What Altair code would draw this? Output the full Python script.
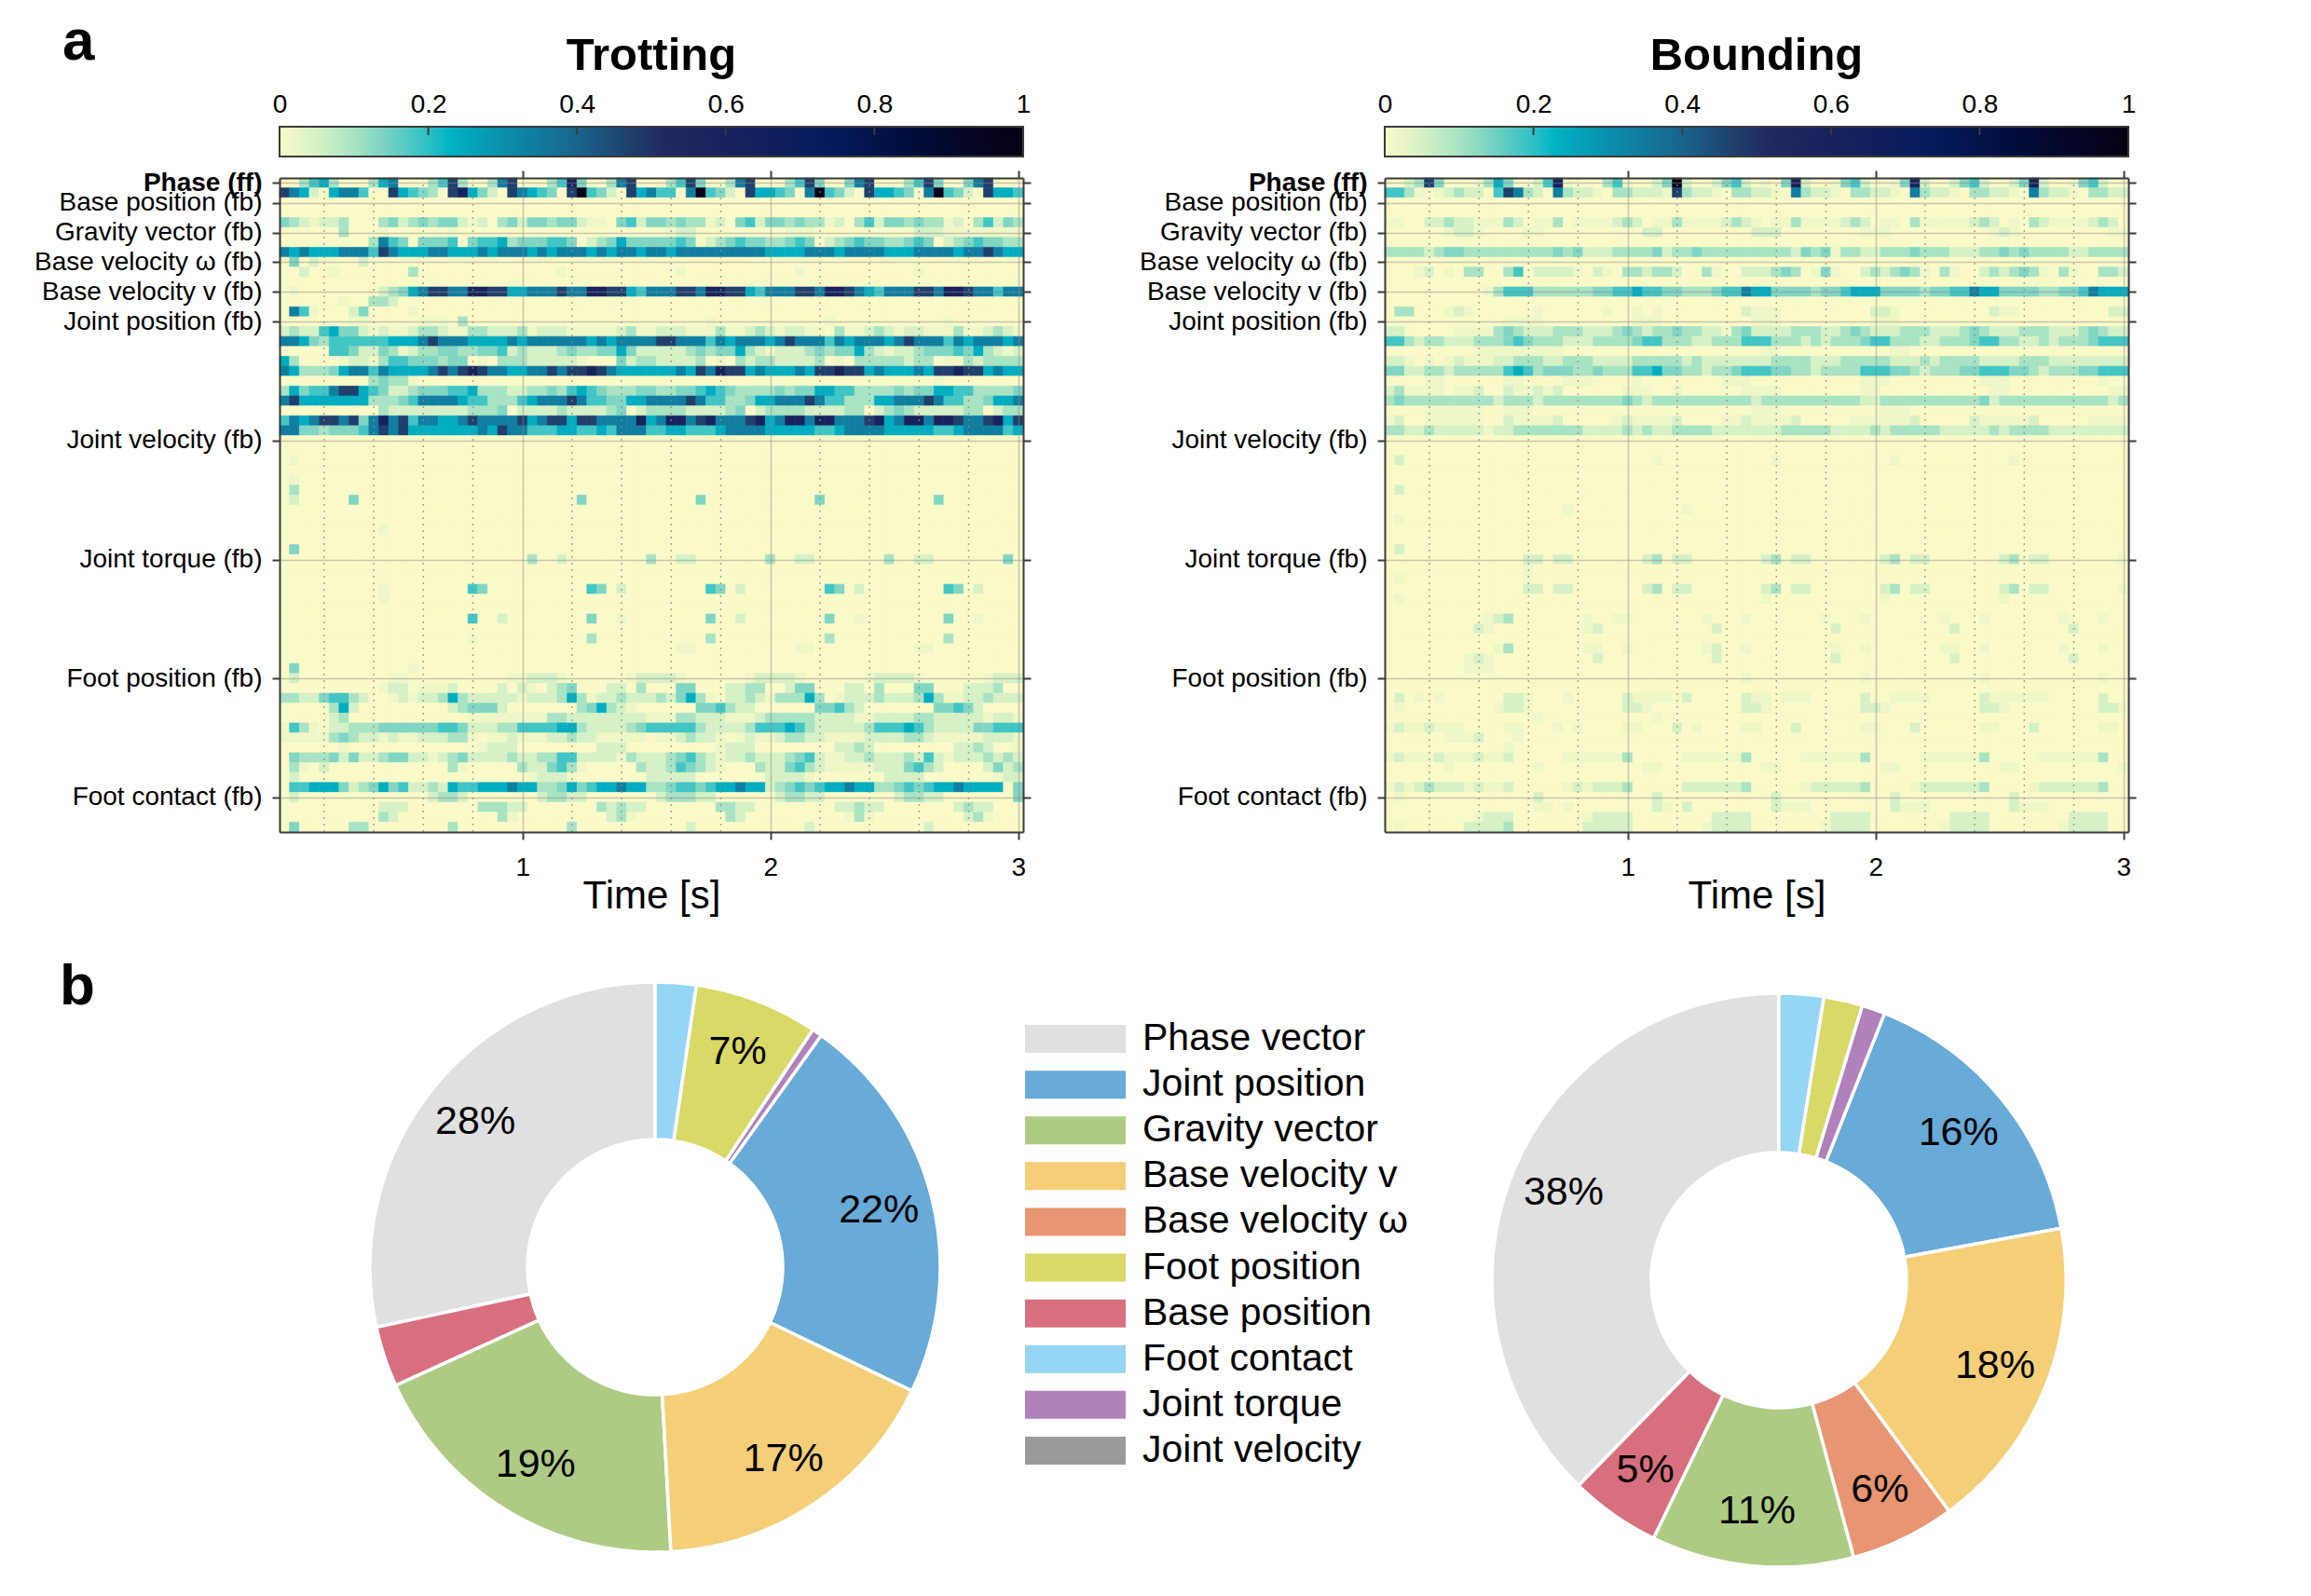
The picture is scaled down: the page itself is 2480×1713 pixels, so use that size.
import altair as alt
import pandas as pd

alt.data_transformers.disable_max_rows()
FONT = "Liberation Sans"

# ---------------- heatmap grid definition ----------------
GROUP_NAMES = ["Phase (ff)", "Base position (fb)", "Gravity vector (fb)", "Base velocity ω (fb)",
               "Base velocity v (fb)", "Joint position (fb)", "Joint velocity (fb)", "Joint torque (fb)",
               "Foot position (fb)", "Foot contact (fb)"]
GROUP_SIZES = [2, 3, 3, 3, 3, 12, 12, 12, 12, 4]
N_STEPS = 75
T_START = 0.02
DT = 0.04
X_TICKS = [1, 2, 3]
MINOR_TIMES = [0.2, 0.4, 0.6, 0.8, 1.2, 1.4, 1.6, 1.8, 2.2, 2.4, 2.6, 2.8]

# colour codes -> attention value
CODE_VALUE = {"0": 0.0, "1": 0.015, "2": 0.05, "3": 0.1, "4": 0.135, "5": 0.185,
              "6": 0.24, "7": 0.34, "8": 0.47, "9": 0.6, "b": 0.97}

CMAP_STOPS = [0.0, 0.05, 0.10, 0.15, 0.20, 0.23, 0.30, 0.40, 0.47, 0.52, 0.60, 0.70, 0.75, 0.85, 1.0]
CMAP_COLORS = ["#fafac8", "#d6f1c6", "#a8e3c3", "#6fd0c3", "#2ec0c6", "#00b2c4", "#0a8fad", "#19648c",
               "#1f3f6c", "#212860", "#17225c", "#0b1d5c", "#031a58", "#020c3c", "#080012"]
CB_TICKS = [0, 0.2, 0.4, 0.6, 0.8, 1]

# ---------------- Trotting ----------------
TROT_PHASE = [
    "00356 30003 67000 35830 03780 00359 40037 80003 58400 37800 03584 00478 00035 84004 78000",
    "87620 67750 08654 30896 42087 65408 b5420 86755 07b54 20866 5407b 54208 66540 7b542 08665",
]
TROT_BASE_POSITION = [
    {}, {},
    "43212 23000 34234 34421 20342 44344 21104 52443 43312 04524 43433 12035 24434 33120 35243",
]
TROT_GRAVITY = [
    "00000 03000 10000 00100 00000 00000 00000 00001 22000 00000 01110 00000 00002 22111 11111",
    "00000 00003 75404 44504 55634 44554 02346 44444 54023 45443 34540 23454 43345 40234 54433",
    "76766 67775 87666 77666 76777 67677 76767 76776 77777 77776 66677 76777 76667 77767 78766",
]
TROT_BASE_OMEGA = [{1: 4, 3: 2, 8: 2}, {2: 2, 5: 1, 13: 3, 28: 1, 40: 1, 52: 1, 64: 1}, {}]
TROT_BASE_V = [
    "01000 00000 23467 88779 98866 77787 79988 65777 88799 88657 77887 99876 57778 87998 77577",
    {6: 1, 9: 3, 10: 3, 11: 2},
    {1: 7, 2: 5, 3: 1, 7: 2, 8: 4, 13: 1},
]
TROT_JOINT_POSITION = [
    {7: 1, 8: 1, 14: 1, 15: 1, 16: 1, 18: 3, 43: 1, 55: 1, 67: 1},
    "23225 64421 21123 32113 32223 12221 11112 31122 21113 11232 12211 03112 32122 11131 12321",
    "77643 55555 56667 87776 66676 77777 76767 77788 77757 67776 78777 57677 76787 77576 77767",
    "00000 55422 43123 34433 44523 22234 33446 42222 23434 46321 22234 34463 21223 44454 63212",
    "63000 01221 35544 43440 10333 22222 10004 23322 22301 03233 22223 01033 33323 30113 23333",
    "76333 46775 76666 78789 87766 77878 89876 66666 76879 88676 66768 89886 76667 68898 86766",
    {9: 3, 10: 4, 11: 3, 12: 3, 13: 1, 66: 1},
    "36455 78865 42234 44556 33322 33435 65433 34433 44565 43333 43446 65533 33434 46655 33334",
    "78666 66663 33457 77765 53335 67778 75544 66777 78755 33466 77787 55333 66777 87553 34667",
    "00000 00000 32222 22223 33402 22232 22234 02333 32222 34023 33322 22330 23432 22223 30233",
    "57678 87847 97857 76678 77778 67886 88777 79679 97897 77896 79979 97778 96799 79987 78968",
    "77443 44457 87866 66666 76877 55566 55657 77556 65556 77776 66665 56777 76666 65567 77756",
]
TROT_JOINT_VELOCITY = [{}, {}, {1: 1}, {}, {1: 1}, {1: 3}, {1: 2, 7: 4, 30: 4, 42: 4, 54: 4, 66: 4},
                       {}, {}, {10: 1}, {}, {1: 4}]
TROT_JOINT_TORQUE = [
    {25: 3, 28: 2, 37: 3, 40: 2, 41: 2, 49: 3, 52: 2, 53: 2, 61: 3, 64: 2, 65: 2, 73: 4},
    {}, {},
    {10: 1, 19: 5, 20: 4, 31: 5, 32: 4, 34: 2, 43: 5, 44: 4, 46: 2, 55: 5, 56: 4, 58: 2, 67: 5, 68: 4, 70: 2},
    {10: 1}, {},
    {19: 5, 22: 2, 31: 4, 34: 1, 43: 4, 46: 2, 55: 4, 58: 1, 67: 4, 70: 1},
    {},
    {19: 1, 31: 3, 43: 3, 55: 3, 67: 3},
    {40: 1, 41: 1, 52: 1, 53: 1, 64: 1, 65: 1},
    {},
    {1: 4, 13: 1},
]
TROT_FOOT_POSITION = [
    "02000 00000 01100 00000 00011 22210 00000 12222 10000 00122 22100 00001 22221 00000 01222",
    "00000 00000 12201 11200 00202 10234 00022 03000 44000 22330 02440 00220 30004 40002 22300",
    "33224 55320 01212 23632 22221 22236 31223 22232 46310 22321 33363 01222 32223 63112 23222",
    "00000 36200 00000 00234 44200 00000 34632 10000 00445 32200 00004 45320 00000 04454 20000",
    "00000 23000 00000 00001 11111 11332 22222 22111 33222 11123 33332 22211 22223 32222 21221",
    "15310 22333 44444 45542 22335 55566 32222 34555 55322 22355 56532 22223 55565 32222 44555",
    "11111 34322 12112 22331 01121 11223 22111 11011 23221 01211 23322 11112 22233 21111 12221",
    "00000 01000 00000 00000 12220 00000 00222 00000 00001 22200 00000 02232 00000 00022 32001",
    "04333 42422 34422 12342 22232 23355 22221 32223 45321 22322 23452 11223 22232 52122 23232",
    "03102 00000 00000 00310 00003 22453 10000 03223 54321 00032 24532 11111 22245 32000 02423",
    "02000 00000 00000 00000 00000 12221 00000 00222 22000 00002 22210 00000 02222 00000 00122",
    "05566 64234 64522 32655 66676 63346 45667 66334 55456 67662 34545 66766 33454 56676 66604",
]
TROT_FOOT_CONTACT = [
    "02000 00000 00000 23320 00000 02332 20000 00023 33220 00000 23322 00000 00233 22000 00004",
    "00000 00000 22200 00000 33322 00000 00323 22000 00003 32200 00000 02232 20000 00023 22000",
    {10: 3, 11: 2, 22: 3, 23: 1, 33: 2, 34: 3, 35: 1, 45: 3, 46: 2, 57: 1, 58: 3, 59: 1, 69: 2, 70: 3, 71: 1},
    {1: 4, 7: 3, 8: 3, 17: 3, 29: 3, 41: 2, 53: 2, 65: 2},
]

# ---------------- Bounding ----------------
BOUND_PHASE = [
    "00238 40001 36400 25910 00351 0024b 20024 52010 49200 14520 01492 00245 20024 92001 45200",
    "55310 12322 05873 20732 21033 22218 32210 33221 07322 10332 21073 22103 32210 73221 03322",
]
BOUND_BASE_POSITION = [
    {}, {},
    "11002 23221 11320 11301 11123 20113 11112 32101 13111 12320 11031 11112 32010 32111 12320",
]
BOUND_GRAVITY = [
    "00000 01221 00001 10000 00000 02200 00000 00222 00000 00011 10000 00000 01210 00000 00011",
    {},
    "33332 34433 33333 33434 22233 33423 34333 33333 32434 13322 33343 33222 33434 33332 23333",
]
BOUND_BASE_OMEGA = [
    {},
    "00012 01033 00350 22221 02103 32332 00310 02223 43014 10023 23431 03100 23234 31031 00332",
    {},
]
BOUND_BASE_V = [
    "00000 00000 13555 33333 34455 65544 33345 57664 44434 45666 44443 44557 66444 43344 57666",
    {},
    "03300 01210 00000 10000 00100 10100 00000 02111 00000 00002 21000 00000 02110 00000 00022",
]
BOUND_JOINT_POSITION = [
    "00000 00000 00111 10000 00000 11100 00000 00111 00000 00001 11000 00000 00000 00000 00000",
    "22000 00111 13432 22333 22234 32334 33221 34222 23332 23432 22333 22234 32223 33222 34322",
    "55323 32223 33454 33322 23333 45533 32233 35553 33232 33345 53332 23334 55332 23233 34555",
    "00000 00001 11111 11100 00000 00000 00000 00011 00000 00000 01100 00000 00000 00000 00000",
    "22101 01211 12233 32233 32222 33333 23222 22223 33322 23333 32223 23333 22223 33222 22222",
    "44223 32333 33565 34443 34333 55644 33233 45554 43323 33355 54432 33344 55544 32333 44555",
    "00001 10000 00110 00011 10000 10000 00001 11000 00000 00011 10000 00000 11100 00000 00100",
    "23111 10112 00211 21200 00001 11001 00000 01111 00000 00011 00000 00000 01100 00000 00011",
    "34333 33333 32333 23333 33334 32333 33333 33233 33333 33322 33333 33333 42333 33333 33323",
    "00001 11111 00111 00000 00000 00000 00000 00111 00000 00000 11100 00000 00000 00000 00000",
    "12001 11111 00211 11200 00012 11112 00001 12111 12000 00111 11120 00002 11111 20000 01111",
    "33223 22222 12233 33333 22223 23223 33322 22222 33333 22223 23333 32222 23233 33222 22222",
]
BOUND_JOINT_VELOCITY = [{}, {}, {1: 2, 27: 1, 39: 1, 51: 1, 63: 1}, {}, {}, {1: 2}, {},
                        {18: 1, 30: 1}, {1: 1}, {}, {}, {1: 2}]
BOUND_JOINT_TORQUE = [
    {14: 2, 15: 2, 17: 2, 18: 2, 26: 2, 27: 3, 29: 2, 30: 2, 38: 2, 39: 3, 41: 2, 42: 2,
     50: 2, 51: 3, 53: 2, 54: 2, 62: 2, 63: 3, 65: 2, 66: 2, 74: 1},
    {14: 1},
    {1: 1, 14: 1},
    {14: 2, 15: 2, 17: 2, 18: 2, 26: 2, 27: 3, 29: 2, 30: 2, 38: 2, 39: 3, 41: 2, 42: 2,
     50: 2, 51: 3, 53: 2, 54: 2, 62: 2, 63: 3, 65: 2, 66: 2, 74: 1},
    {1: 1, 38: 1, 50: 1, 62: 1},
    {},
    {10: 1, 11: 2, 12: 3, 20: 1, 23: 1, 24: 1, 32: 1, 36: 1, 44: 1, 48: 1, 56: 1, 60: 1, 68: 1, 72: 1},
    {9: 2, 10: 1, 20: 1, 21: 2, 33: 2, 45: 2, 57: 2, 69: 2},
    {},
    {11: 1, 12: 3, 20: 1, 21: 1, 24: 1, 32: 1, 33: 2, 36: 1, 45: 1, 48: 1, 56: 1, 57: 1, 60: 1, 68: 1, 72: 1},
    {8: 1, 9: 2, 10: 1, 21: 2, 33: 2, 45: 2, 57: 2, 69: 2},
    {8: 1, 9: 1, 10: 1},
]
BOUND_FOOT_POSITION = [
    {36: 1, 48: 1, 60: 1, 72: 1},
    {},
    {1: 2, 3: 1, 5: 1, 12: 2, 13: 2, 14: 1, 18: 1, 24: 2, 25: 1, 26: 1, 27: 1, 28: 1, 30: 2, 36: 2,
     37: 1, 38: 1, 40: 1, 41: 1, 42: 1, 48: 2, 51: 1, 52: 1, 53: 1, 54: 1, 60: 2, 61: 1, 62: 1,
     63: 1, 64: 1, 65: 1, 66: 1, 72: 2},
    {1: 1, 11: 1, 12: 2, 13: 2, 14: 1, 24: 2, 25: 2, 26: 1, 36: 2, 37: 2, 38: 1, 48: 2, 49: 2,
     50: 1, 60: 2, 61: 2, 62: 1, 72: 2, 73: 2, 74: 1},
    {15: 1, 27: 1},
    {0: 1, 1: 2, 2: 1, 3: 1, 4: 2, 5: 1, 6: 1, 7: 1, 12: 1, 13: 1, 17: 1, 19: 1, 24: 1, 25: 1,
     29: 2, 31: 1, 36: 1, 37: 1, 41: 2, 48: 1, 49: 1, 53: 2, 60: 1, 61: 1, 65: 2, 72: 1, 73: 1},
    {6: 1, 7: 1, 8: 1, 9: 2, 13: 1},
    {12: 1},
    "12111 21112 11200 00011 11113 00000 11111 13000 00111 11130 00001 11111 30000 01111 11300",
    {6: 1, 15: 1, 26: 1, 27: 1, 38: 1, 39: 1, 50: 1, 51: 1, 62: 1, 63: 1, 74: 1},
    {},
    "12123 22212 11200 00012 12223 00000 22222 23000 00122 22230 00012 22222 30000 12222 22300",
]
BOUND_FOOT_CONTACT = [
    {1: 1, 15: 2, 27: 2, 39: 2, 51: 2, 63: 2},
    {15: 1, 16: 1, 18: 1, 27: 2, 28: 1, 30: 2, 39: 2, 40: 1, 41: 1, 42: 1, 51: 2, 52: 1, 53: 1,
     54: 1, 63: 2, 64: 1, 65: 1, 66: 1},
    {9: 1, 10: 2, 11: 2, 12: 2, 20: 1, 21: 2, 22: 2, 23: 2, 24: 2, 33: 2, 34: 2, 35: 2, 36: 2,
     45: 2, 46: 2, 47: 2, 48: 2, 57: 2, 58: 2, 59: 2, 60: 2, 69: 2, 70: 2, 71: 2, 72: 2},
    {1: 1, 8: 2, 9: 2, 10: 2, 11: 2, 12: 3, 20: 2, 21: 2, 22: 2, 23: 2, 24: 2, 32: 1, 33: 2, 34: 2,
     35: 2, 36: 2, 44: 1, 45: 2, 46: 2, 47: 2, 48: 2, 56: 1, 57: 2, 58: 2, 59: 2, 60: 2, 68: 1,
     69: 2, 70: 2, 71: 2, 72: 2},
]

# ---------------- pie data ----------------
PIE_NAMES = ["Phase vector", "Joint position", "Gravity vector", "Base velocity v", "Base velocity ω",
             "Foot position", "Base position", "Foot contact", "Joint torque", "Joint velocity"]
PIE_COLORS = ["#e0e0e0", "#68aad8", "#aecb84", "#f4cf78", "#e89572",
              "#d8d966", "#d86f7e", "#94d6f4", "#b081ba", "#9a9a9a"]
TROT_SHARE = [28.39, 22.25, 19.08, 16.97, 0.0, 7.03, 3.42, 2.31, 0.56, 0.0]
BOUND_SHARE = [37.7, 16.1, 11.4, 17.8, 5.9, 2.2, 5.1, 2.5, 1.3, 0.0]
CLOCKWISE_ORDER = ["Foot contact", "Foot position", "Joint torque", "Joint velocity", "Joint position",
                   "Base velocity v", "Base velocity ω", "Gravity vector", "Base position", "Phase vector"]

# ---------------- helpers ----------------
N_ROWS = sum(GROUP_SIZES)
TICK_ROWS = []
_s = 0
for g in GROUP_SIZES:
    TICK_ROWS.append(_s + 0.5)
    _s += g


def decode(row):
    vals = [0.0] * N_STEPS
    if isinstance(row, dict):
        for c, code in row.items():
            vals[c] = CODE_VALUE[str(code)]
        return vals
    s = row.replace(" ", "")
    for c, ch in enumerate(s[:N_STEPS]):
        vals[c] = CODE_VALUE[ch]
    return vals


def heat_df(groups):
    rows = [r for g in groups for r in g]
    recs = []
    for i, row in enumerate(rows):
        for c, v in enumerate(decode(row)):
            recs.append({"t0": T_START + DT * c, "t1": T_START + DT * (c + 1),
                         "r0": i, "r1": i + 1, "v": v})
    return pd.DataFrame(recs)


# layout (pixels)
W, H = 798, 702          # heatmap plot area
GAP_X = 388              # gap between the two heatmaps
CB_ROW = 55              # colour-bar row (bar is 32 px, then 23 px gap)
CB_H = 32
GAP_Y = 161              # gap between heatmaps and pies
PIE_ROW = 640
AX = "#3a3a3a"

x_scale = alt.Scale(domain=[T_START, T_START + DT * N_STEPS], nice=False, zero=False)
y_scale = alt.Scale(domain=[0, N_ROWS], reverse=True, nice=False, zero=False)
color_scale = alt.Scale(domain=CMAP_STOPS, range=CMAP_COLORS, interpolate="rgb", clamp=True)

label_expr = ("[" + ",".join("'" + n + "'" for n in GROUP_NAMES) + "][indexof(["
              + ",".join(str(t) for t in TICK_ROWS) + "], datum.value)]")

axis_common = dict(domainColor=AX, domainWidth=2, tickColor=AX, tickWidth=2, tickSize=8,
                   labelFont=FONT, labelFontSize=28, labelColor="black", labelFlush=False,
                   labelLimit=600)


def heat_body(groups):
    df = heat_df(groups)
    heat = alt.Chart(df).mark_rect(strokeWidth=0.6).encode(
        x=alt.X("t0:Q", scale=x_scale,
                axis=alt.Axis(values=X_TICKS, format="d", title="Time [s]", titleFont=FONT,
                              titleFontSize=42, titleFontWeight="normal", titleColor="black",
                              titlePadding=-4, labelPadding=16, grid=True, gridColor="#8a8a8a",
                              gridOpacity=0.45, gridWidth=1.5, zindex=1, **axis_common)),
        x2="t1:Q",
        y=alt.Y("r0:Q", scale=y_scale,
                axis=alt.Axis(values=TICK_ROWS, labelExpr=label_expr, labelOverlap=False,
                              labelPadding=11, title=None, grid=True, gridColor="#8a8a8a",
                              gridOpacity=0.45, gridWidth=1.5, zindex=1,
                              labelFontWeight={"condition": {"test": "datum.value == 0.5", "value": "bold"},
                                               "value": "normal"},
                              **axis_common)),
        y2="r1:Q",
        color=alt.Color("v:Q", scale=color_scale, legend=None),
        stroke=alt.Stroke("v:Q", scale=color_scale, legend=None),
    )
    minor = alt.Chart(pd.DataFrame({"t": MINOR_TIMES})).mark_rule(
        color="#8a8a8a", strokeWidth=1.5, strokeDash=[2, 5], opacity=0.75
    ).encode(x=alt.X("t:Q", scale=x_scale, axis=None))
    mirror = alt.Chart(pd.DataFrame({"t": [1.0], "r": [0.5]})).mark_point(opacity=0).encode(
        x=alt.X("t:Q", scale=x_scale,
                axis=alt.Axis(orient="top", values=X_TICKS, labels=False, title=None, grid=False,
                              zindex=1, **axis_common)),
        y=alt.Y("r:Q", scale=y_scale,
                axis=alt.Axis(orient="right", values=TICK_ROWS, labels=False, title=None, grid=False,
                              zindex=1, **axis_common)),
    )
    return alt.layer(heat, minor, mirror).resolve_axis(x="independent", y="independent").properties(
        width=W, height=H)


def colorbar(title, letter):
    grad = alt.LinearGradient(gradient="linear",
                              stops=[alt.GradientStop(offset=o, color=c) for o, c in zip(CMAP_STOPS, CMAP_COLORS)],
                              x1=0, x2=1, y1=0, y2=0)
    cb_scale = alt.Scale(domain=[0, 1], nice=False, zero=False)
    cb_axis = alt.Axis(orient="top", values=CB_TICKS, format="~g", ticks=False, domain=False,
                       labelFont=FONT, labelFontSize=28, labelColor="black", labelPadding=10,
                       labelFlush=False, title=None, grid=False)
    bar = alt.Chart(pd.DataFrame({"lo": [0.0], "hi": [1.0]})).mark_rect(
        fill=grad, stroke=AX, strokeWidth=2
    ).encode(
        x=alt.X("lo:Q", scale=cb_scale, axis=cb_axis),
        x2="hi:Q",
        y=alt.value(0), y2=alt.value(CB_H),
    )
    cb_ticks = alt.Chart(pd.DataFrame({"v": CB_TICKS[1:-1]})).mark_rule(color=AX, strokeWidth=2).encode(
        x=alt.X("v:Q", scale=cb_scale, axis=cb_axis), y=alt.value(0), y2=alt.value(9))
    ttl = alt.Chart(pd.DataFrame({"s": [title]})).mark_text(
        font=FONT, fontSize=49, fontWeight="bold", align="center", baseline="alphabetic", color="black"
    ).encode(text="s:N", x=alt.value(W / 2), y=alt.value(-61))
    layers = [bar, cb_ticks, ttl]
    if letter:
        layers.append(alt.Chart(pd.DataFrame({"s": [letter]})).mark_text(
            font=FONT, fontSize=62, fontWeight="bold", align="left", baseline="alphabetic", color="black"
        ).encode(text="s:N", x=alt.value(-233), y=alt.value(-72)))
    return alt.layer(*layers).properties(width=W, height=CB_ROW)


pie_color = alt.Scale(domain=PIE_NAMES, range=PIE_COLORS)


def pie_chart(shares, cx, cy, outer, inner, letter=None):
    df = pd.DataFrame({"name": PIE_NAMES, "share": shares})
    df["k"] = [CLOCKWISE_ORDER.index(n) for n in PIE_NAMES]
    df["label"] = [f"{round(s)}%" if s >= 5 else "" for s in shares]
    df = df[df["share"] > 0]
    base = alt.Chart(df).encode(
        theta=alt.Theta("share:Q", stack=True),
        order=alt.Order("k:Q", sort="ascending"),
        x=alt.value(cx), y=alt.value(cy),
    )
    arcs = base.mark_arc(radius=outer, radius2=inner, stroke="white", strokeWidth=3.5).encode(
        color=alt.Color("name:N", scale=pie_color, legend=None))
    txt = base.mark_text(radius=0.81 * outer, font=FONT, fontSize=43, color="black").encode(text="label:N")
    layers = [arcs, txt]
    if letter:
        layers.append(alt.Chart(pd.DataFrame({"s": [letter]})).mark_text(
            font=FONT, fontSize=62, fontWeight="bold", align="left", baseline="alphabetic", color="black"
        ).encode(text="s:N", x=alt.value(-236), y=alt.value(24)))
    return alt.layer(*layers).properties(width=W, height=PIE_ROW)


def spacer(w, h):
    return alt.Chart(pd.DataFrame({"a": [0]})).mark_point(opacity=0).encode(
        x=alt.value(0), y=alt.value(0)).properties(width=w, height=h)


leg_df = pd.DataFrame({"name": PIE_NAMES})
leg_y = alt.Y("name:N", sort=PIE_NAMES, axis=None,
              scale=alt.Scale(range=[36.5, 527.5], paddingInner=0.388, paddingOuter=0.194))
swatch = alt.Chart(leg_df).mark_rect().encode(
    y=leg_y, x=alt.value(2), x2=alt.value(110),
    color=alt.Color("name:N", scale=pie_color, legend=None))
leg_text = alt.Chart(leg_df).mark_text(align="left", baseline="middle", font=FONT, fontSize=41,
                                       color="black").encode(y=leg_y, x=alt.value(128), text="name:N")
legend = alt.layer(swatch, leg_text).properties(width=GAP_X, height=PIE_ROW)

TROT_GROUPS = [TROT_PHASE, TROT_BASE_POSITION, TROT_GRAVITY, TROT_BASE_OMEGA, TROT_BASE_V,
               TROT_JOINT_POSITION, TROT_JOINT_VELOCITY, TROT_JOINT_TORQUE, TROT_FOOT_POSITION,
               TROT_FOOT_CONTACT]
BOUND_GROUPS = [BOUND_PHASE, BOUND_BASE_POSITION, BOUND_GRAVITY, BOUND_BASE_OMEGA, BOUND_BASE_V,
                BOUND_JOINT_POSITION, BOUND_JOINT_VELOCITY, BOUND_JOINT_TORQUE, BOUND_FOOT_POSITION,
                BOUND_FOOT_CONTACT]

cells = [
    colorbar("Trotting", "a"), spacer(GAP_X, CB_ROW), colorbar("Bounding", None),
    heat_body(TROT_GROUPS), spacer(GAP_X, H), heat_body(BOUND_GROUPS),
    spacer(W, GAP_Y), spacer(GAP_X, GAP_Y), spacer(W, GAP_Y),
    pie_chart(TROT_SHARE, 403, 306, 306, 137, "b"), legend, pie_chart(BOUND_SHARE, 423, 320, 308, 137),
]

chart = alt.concat(*cells, columns=3, spacing=0, bounds="flush", align="each").properties(
    autosize=alt.AutoSizeParams(type="none"),
    padding={"left": 292, "top": 128, "right": 2172, "bottom": 1569},
).configure(font=FONT).configure_view(strokeWidth=0)

chart.save("out.html", embed_options={"renderer": "svg", "actions": False})
